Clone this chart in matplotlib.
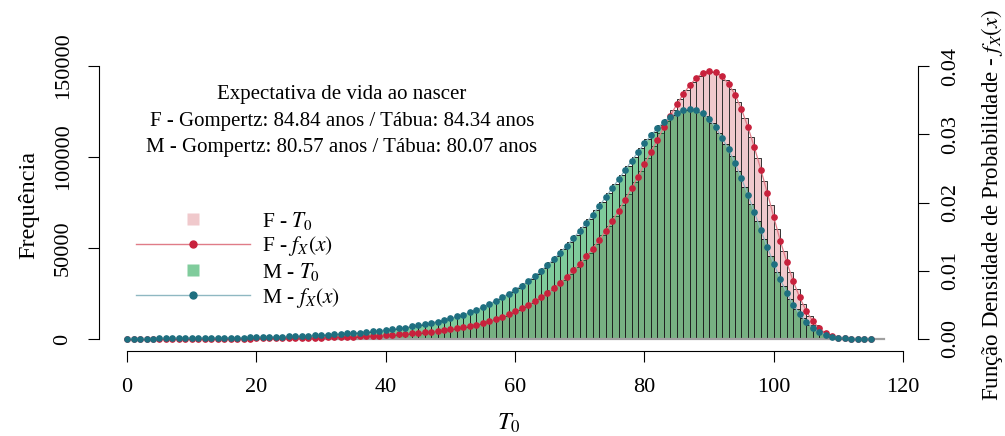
import numpy as np
import matplotlib
matplotlib.use('Agg')
import matplotlib.pyplot as plt
from matplotlib.lines import Line2D

plt.rcParams['font.family'] = ['Liberation Serif', 'DejaVu Serif']
plt.rcParams['mathtext.fontset'] = 'stix'

# idades (pontos da densidade) e classes do histograma
idade = np.arange(0, 116)
classes = np.arange(0, 117)

# densidade de Gompertz - feminino
dens_f = [0.000012, 0.000013, 0.000015, 0.000016, 0.000018, 0.000019, 0.000021, 0.000023, 0.000026, 0.000028,
          0.000031, 0.000034, 0.000037, 0.000041, 0.000045, 0.000050, 0.000055, 0.000060, 0.000067, 0.000073,
          0.000081, 0.000089, 0.000098, 0.000108, 0.000120, 0.000132, 0.000145, 0.000160, 0.000176, 0.000193,
          0.000212, 0.000234, 0.000258, 0.000284, 0.000312, 0.000344, 0.000378, 0.000416, 0.000454, 0.000498,
          0.000549, 0.000600, 0.000660, 0.000730, 0.000810, 0.000880, 0.000970, 0.001070, 0.001170, 0.001290,
          0.001420, 0.001570, 0.001730, 0.001900, 0.002110, 0.002340, 0.002610, 0.002900, 0.003220, 0.003600,
          0.004040, 0.004510, 0.005010, 0.005540, 0.006120, 0.006770, 0.007470, 0.008250, 0.009110, 0.010040,
          0.011020, 0.012090, 0.013260, 0.014510, 0.015830, 0.017260, 0.018790, 0.020400, 0.022070, 0.023800,
          0.025580, 0.027400, 0.029220, 0.031010, 0.032740, 0.034380, 0.035870, 0.037190, 0.038240, 0.038980,
          0.039270, 0.039090, 0.038480, 0.037370, 0.035810, 0.033670, 0.031060, 0.028080, 0.024820, 0.021390,
          0.017850, 0.014420, 0.011280, 0.008470, 0.006100, 0.004160, 0.002640, 0.001580, 0.000880, 0.000440,
          0.000200, 0.000080, 0.000029, 0.000009, 0.000002, 0.000000]

# densidade de Gompertz - masculino
dens_m = [0.000050, 0.000054, 0.000059, 0.000064, 0.000070, 0.000076, 0.000082, 0.000089, 0.000097, 0.000106,
          0.000114, 0.000123, 0.000133, 0.000145, 0.000158, 0.000171, 0.000186, 0.000201, 0.000218, 0.000237,
          0.000258, 0.000280, 0.000303, 0.000330, 0.000358, 0.000388, 0.000421, 0.000454, 0.000498, 0.000542,
          0.000586, 0.000630, 0.000689, 0.000747, 0.000806, 0.000879, 0.000952, 0.001033, 0.001121, 0.001216,
          0.001319, 0.001436, 0.001553, 0.001685, 0.001832, 0.001993, 0.002169, 0.002359, 0.002564, 0.002784,
          0.003033, 0.003297, 0.003575, 0.003898, 0.004279, 0.004689, 0.005129, 0.005612, 0.006125, 0.006652,
          0.007224, 0.007825, 0.008484, 0.009202, 0.009993, 0.010843, 0.011722, 0.012675, 0.013671, 0.014741,
          0.015855, 0.017027, 0.018228, 0.019488, 0.020778, 0.022082, 0.023401, 0.024734, 0.026082, 0.027401,
          0.028661, 0.029834, 0.030889, 0.031797, 0.032588, 0.033174, 0.033555, 0.033673, 0.033526, 0.033057,
          0.032207, 0.031006, 0.029511, 0.027782, 0.025760, 0.023533, 0.021100, 0.018551, 0.015972, 0.013422,
          0.011019, 0.008733, 0.006740, 0.005041, 0.003634, 0.002520, 0.001670, 0.001055, 0.000630, 0.000352,
          0.000176, 0.000081, 0.000034, 0.000012, 0.000004, 0.000001]

# frequencias de T0 por classe [k, k+1) - feminino
freq_f = [47, 53, 58, 64, 69, 75, 83, 92, 101, 111,
          122, 133, 146, 161, 178, 197, 216, 238, 263, 289,
          319, 351, 386, 428, 473, 519, 572, 630, 692, 759,
          836, 923, 1016, 1118, 1230, 1354, 1489, 1631, 1785, 1963,
          2154, 2363, 2606, 2888, 3169, 3469, 3825, 4200, 4613, 5081,
          5606, 6188, 6806, 7519, 8344, 9281, 10331, 11475, 12788, 14325,
          16031, 17850, 19781, 21863, 24169, 26700, 29475, 32550, 35906, 39488,
          43331, 47531, 52069, 56888, 62044, 67594, 73481, 79631, 86006, 92588,
          99338, 106163, 112931, 119531, 125850, 131719, 136988, 141431, 144788, 146719,
          146925, 145444, 142219, 137213, 130275, 121369, 110888, 99188, 86644, 73575,
          60506, 48188, 37031, 27319, 19238, 12750, 7913, 4613, 2475, 1200,
          525, 204, 71, 21, 5, 1, 0]

# frequencias de T0 por classe [k, k+1) - masculino
freq_m = [195, 212, 231, 251, 274, 296, 321, 349, 381, 413,
          444, 480, 521, 568, 617, 669, 726, 786, 853, 928,
          1009, 1093, 1187, 1290, 1399, 1517, 1641, 1785, 1950, 2115,
          2280, 2473, 2693, 2912, 3159, 3433, 3722, 4039, 4382, 4753,
          5166, 5604, 6071, 6594, 7172, 7804, 8490, 9231, 10028, 10907,
          11869, 12885, 14012, 15332, 16815, 18409, 20139, 22007, 23957, 26018,
          28217, 30579, 33161, 35991, 39068, 42309, 45744, 49399, 53273, 57368,
          61654, 66103, 70718, 75499, 80363, 85281, 90253, 95280, 100281, 105116,
          109678, 113856, 117536, 120722, 123304, 125117, 126053, 125998, 124843, 122370,
          118524, 113469, 107424, 100391, 92424, 83687, 74346, 64731, 55114, 45827,
          37035, 29012, 22089, 16266, 11539, 7856, 5109, 3159, 1841, 990,
          482, 216, 86, 30, 9, 2, 0]

titulo = ['Expectativa de vida ao nascer',
          'F - Gompertz: 84.84 anos / Tábua: 84.34 anos',
          'M - Gompertz: 80.57 anos / Tábua: 80.07 anos']

fig = plt.figure(figsize=(10.05, 4.36), dpi=100)
ax = fig.add_axes([99 / 1005, 1 - 350 / 436, (918 - 99) / 1005, 290 / 436])

ax.bar(classes, freq_f, width=1, align='edge', color=(0.86, 0.47, 0.51, 0.4),
       edgecolor='#333333', linewidth=0.7)
ax.bar(classes, freq_m, width=1, align='edge', color=(0.0, 0.6, 0.22, 0.5),
       edgecolor='#222222', linewidth=0.7)
ax.plot([0, 117], [0, 0], color='#a0a0a0', lw=1.6, zorder=3)

ax.set_xlim(-4.35, 122.3)
ax.set_ylim(-6045, 153310)
ax.set_xticks([0, 20, 40, 60, 80, 100, 120])
ax.set_yticks([0, 50000, 100000, 150000])
ax.set_yticklabels(['0', '50000', '100000', '150000'], rotation=90, va='center')
for s in ['top', 'right']:
    ax.spines[s].set_visible(False)
ax.spines['left'].set_bounds(0, 150000)
ax.spines['bottom'].set_bounds(0, 120)
ax.spines['bottom'].set_position(('outward', 1))
ax.tick_params(labelsize=16, length=8, width=0.8, pad=11)
ax.set_ylabel('Frequência', fontsize=17.5, labelpad=10)
ax.set_xlabel('$T_0$', fontsize=17.5, labelpad=11)

ax2 = ax.twinx()
ax2.set_ylim(-6045 / 3.75e6, 153310 / 3.75e6)
ax2.plot(idade, dens_f, color='#e07c88', lw=0.9, marker='o', ms=3.8,
         mfc='#c8213c', mec='#c8213c')
ax2.plot(idade, dens_m, color='#8fb8c2', lw=0.9, marker='o', ms=3.8,
         mfc='#1e6f80', mec='#1e6f80')
for s in ['top', 'left', 'bottom']:
    ax2.spines[s].set_visible(False)
ax2.spines['right'].set_bounds(0, 0.04)
ax2.set_yticks([0, 0.01, 0.02, 0.03, 0.04])
ax2.set_yticklabels(['0.00', '0.01', '0.02', '0.03', '0.04'], rotation=90, va='center')
ax2.tick_params(labelsize=16, length=8, width=0.8, pad=9)
ax2.set_ylabel('Função Densidade de Probabilidade - $f_X(x)$', fontsize=16.5, labelpad=13)

for i, t in enumerate(titulo):
    fig.text(342 / 1005, 1 - (95 + 26 * i) / 436, t, fontsize=15, ha='center', va='center')

handles = [
    Line2D([], [], ls='none', marker='s', ms=8, mfc=(0.94, 0.79, 0.8), mec='none'),
    Line2D([], [], color='#e07c88', lw=1, marker='o', ms=5, mfc='#c8213c', mec='#c8213c'),
    Line2D([], [], ls='none', marker='s', ms=8, mfc=(0.5, 0.8, 0.61), mec='none'),
    Line2D([], [], color='#8fb8c2', lw=1, marker='o', ms=5, mfc='#1e6f80', mec='#1e6f80'),
]
labels = ['F - $T_0$', 'F - $f_X(x)$', 'M - $T_0$', 'M - $f_X(x)$']
ax.legend(handles, labels, loc='upper left', bbox_to_anchor=(125 / 1005, 1 - 199 / 436),
          bbox_transform=fig.transFigure, frameon=False, fontsize=15.5,
          handlelength=5.3, labelspacing=0.12, handletextpad=0.55, borderpad=0)

fig.savefig('out.png', dpi=100)
